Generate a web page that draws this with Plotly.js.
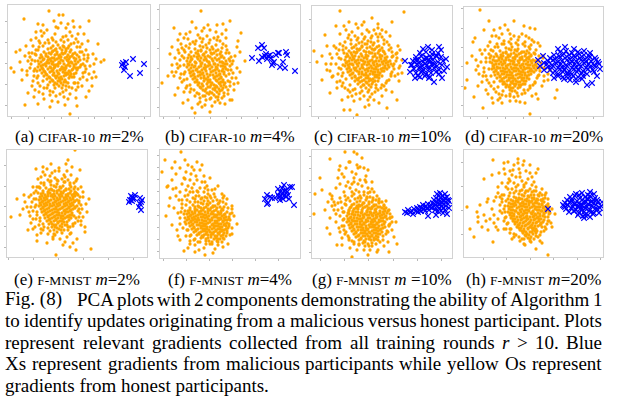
<!DOCTYPE html>
<html><head><meta charset="utf-8">
<script src="https://cdn.plot.ly/plotly-3.0.1.min.js"></script>
<style>html,body{margin:0;padding:0;background:#fff}#fig{width:619px;height:397px}</style>
</head><body><div id="fig"></div>
<script>
// ---- DATA (panel-local PCA units) ----
const honestA = [
[45,70],[50,71],[56,69],[61,70],[40,67],[47,66],[52,68],[58,67],[63,66],
[36,64],[41,63],[45,65],[49,64],[54,63],[58,65],[62,64],[67,63],
[33,61],[38,60],[43,62],[47,61],[51,60],[55,62],[60,61],[64,60],[69,61],
[32,58],[36,57],[40,59],[44,58],[49,57],[53,59],[57,58],[61,57],[66,58],[71,59],
[30,55],[35,56],[39,54],[43,55],[47,56],[51,54],[55,55],[59,56],[63,54],[67,55],[72,56],
[31,52],[35,51],[39,53],[44,52],[48,51],[52,53],[56,52],[60,51],[64,53],[68,52],[73,51],
[30,49],[34,48],[38,50],[42,49],[46,48],[50,50],[54,49],[58,48],[62,50],[66,49],[70,48],
[32,46],[36,45],[40,47],[45,46],[49,45],[53,47],[57,46],[61,45],[65,47],[69,46],
[34,43],[38,42],[42,44],[46,43],[51,42],[55,44],[59,43],[63,42],[68,43],
[36,40],[41,39],[45,41],[49,40],[53,39],[58,41],[62,40],[66,39],
[39,37],[44,36],[48,38],[52,37],[57,36],[61,38],[42,34],[47,33],[52,35],[56,34],[60,33],[46,31],[51,30],[55,31],
[43,68],[54,66],[60,68],[38,62],[49,62],[57,63],[65,62],[34,59],[42,57],[51,58],[59,59],[68,57],[33,54],[41,53],
[45,54],[53,56],[61,53],[70,54],[33,50],[37,52],[46,51],[50,52],[58,50],[66,51],[72,49],[35,47],[43,48],[52,46],
[56,48],[64,46],[68,48],[37,44],[44,45],[50,43],[57,43],[62,44],[66,42],[39,41],[47,40],[51,38],[56,40],[60,42],
[64,39],[42,38],[50,35],[54,37],[58,34],[45,35],[49,32],[53,33],[48,67],[55,70],[44,64],[52,61],[62,59],[40,56],
[55,47],[47,49],[60,55],[46,58],
[30,66],[35,70],[41,73],[48,74],[56,74],[63,72],[69,69],[74,64],[76,57],[77,50],[75,43],[72,37],[67,33],[61,29],
[54,28],[47,28],[40,31],[35,35],[30,40],[27,47],[27,55],[28,61],[32,73],[44,78],[58,80],[70,74],[80,61],[81,42],
[70,29],[56,19],[42,21],[31,24],[25,35],[22,59],[36,83],[64,80],[86,52],[19,41],[48,89],[60,92],
[25,70],[28,78],[34,80],[40,76],[47,82],[55,79],[62,84],[68,77],[74,72],[78,66],[80,58],[82,50],[77,44],[79,36],
[74,30],[68,26],[62,22],[55,24],[48,20],[42,25],[36,28],[30,33],[26,40],[22,48],[24,56],[21,63],[27,62],[31,69],
[72,64],[75,52],[29,45],[35,22],[58,30],[66,33],[39,86],[50,88],[70,82],[85,62],[86,44],[20,55],[18,70],[60,17],
[44,15],[84,30],[27,26],
[24,63],[23,52],[26,45],[29,38],[32,30],[39,28],[45,24],[52,22],[58,26],[64,28],[70,33],[75,39],[78,47],[79,55],
[76,61],[72,69],[66,73],[60,76],[53,76],[45,76],[37,73],[31,75],[28,66],[19,45],[17,60],[33,85],[58,88],[66,89],
[80,75],[88,57],[84,38],[68,18],[50,14],[36,17],[24,30],[14,46],[12,66],[30,92],[46,95],[76,82],
[41,105],[16,97],[51,101],[55,101],[81,95],[53,93],[35,91],[3,48],[6,44],[8,64],[17,11],[42,9],[62,2],[57,11],
[69,10],[26,19],[93,54],[96,56],[88,39],[81,25],[78,19],[20,23],[14,36],[23,76],[72,89],[28,84],[12,54],[30,12],[90,72],[65,95]
];
const maliciousA = [[115,53],[118,54],[117,49],[116,46],[125,57],[122,40],[136,52],[132,43],[114,51]];

const honestB = [
[40,70],[46,71],[52,69],[35,67],[41,66],[47,68],[53,67],[58,66],
[31,64],[36,63],[41,65],[46,64],[51,63],[56,65],[61,64],
[29,61],[34,60],[38,62],[43,61],[48,60],[52,62],[57,61],[62,60],
[28,58],[32,57],[37,59],[41,58],[46,57],[50,59],[55,58],[59,57],[64,58],
[27,55],[31,56],[35,54],[40,55],[44,56],[49,54],[53,55],[57,56],[62,54],[66,55],
[28,52],[32,51],[36,53],[41,52],[45,51],[49,53],[54,52],[58,51],[63,53],[67,52],
[27,49],[31,48],[35,50],[39,49],[44,48],[48,50],[52,49],[57,48],[61,50],[65,49],
[29,46],[33,45],[37,47],[42,46],[46,45],[50,47],[55,46],[59,45],[63,47],[68,46],
[30,43],[34,42],[38,44],[43,43],[47,42],[51,44],[56,43],[60,42],[64,44],
[31,40],[35,39],[40,41],[44,40],[48,39],[53,41],[57,40],[61,39],[66,40],
[33,37],[37,36],[41,38],[46,37],[50,36],[54,38],[59,37],[63,36],
[35,34],[39,33],[44,35],[48,34],[52,33],[57,35],[61,34],[65,33],
[38,31],[43,30],[47,32],[51,31],[56,30],[60,32],[64,31],
[41,28],[46,27],[50,29],[55,28],[59,27],[63,28],[45,25],[50,24],[55,26],[60,25],[49,22],[54,21],[59,22],
[43,69],[50,66],[38,65],[44,62],[54,63],[60,62],[31,59],[39,60],[45,59],[52,57],[61,59],[30,54],[38,57],[42,53],
[47,55],[55,52],[60,54],[65,52],[29,51],[34,49],[41,50],[46,49],[50,51],[56,49],[63,50],[31,44],[36,46],[40,44],
[45,47],[53,45],[57,47],[62,45],[66,47],[33,41],[38,40],[42,42],[50,41],[55,39],[59,41],[64,42],[35,38],[44,38],
[48,36],[56,36],[61,38],[37,34],[42,32],[50,34],[54,31],[59,33],[63,34],[40,29],[48,29],[53,27],[57,29],[61,30],
[43,26],[52,23],[57,24],[62,26],[47,23],[56,19],
[25,64],[29,68],[35,72],[42,74],[49,73],[56,71],[62,68],[66,63],[69,57],[70,50],[69,42],[68,35],[66,29],[64,23],
[58,19],[51,18],[45,20],[39,22],[34,26],[30,31],[27,37],[25,44],[24,51],[24,58],[19,63],[22,68],[28,77],[38,81],
[58,79],[73,55],[74,32],[60,13],[40,14],[24,24],[17,52],[44,88],[66,86],[12,44],[78,75],[20,82],
[22,60],[20,50],[24,42],[22,34],[26,28],[30,24],[35,20],[40,18],[46,16],[55,14],[62,18],[68,22],[70,30],[72,38],
[71,46],[70,55],[69,63],[66,70],[60,75],[54,78],[47,80],[40,78],[33,74],[26,70],[24,78],[18,66],[16,44],[30,84],
[50,86],[62,82],[75,60],[74,26],[45,11],[28,16],[65,12],[20,38],[36,88],
[20,56],[18,48],[21,42],[24,36],[27,30],[31,27],[37,23],[43,20],[50,17],[58,16],[64,20],[68,26],[70,34],[73,43],
[72,52],[71,59],[67,66],[63,72],[57,76],[50,76],[43,77],[36,75],[30,72],[24,66],[21,72],[15,58],[14,40],[18,28],
[26,82],[42,85],[56,84],[66,78],[77,48],[76,38],[52,10],[38,12],[70,16],[10,62],[80,64],[32,94],
[41,105],[14,88],[18,76],[63,92],[57,91],[48,91],[81,83],[77,69],[2,33],[12,51],[15,21],[35,3],[32,8],[50,4],
[42,9],[72,16],[78,33],[80,44],[23,13],[12,69],[8,40],[85,55],[70,95]
];
const maliciousB = [[92,58],[98,68],[102,71],[104,68],[99,55],[102,59],[105,60],[108,60],[110,61],[107,57],[113,53],
[114,54],[112,51],[118,63],[119,63],[116,61],[120,49],[123,54],[125,48],[126,64],[127,61],[135,45],[106,62],[111,58]];

const honestC = [
[50,74],[56,75],[62,73],[44,71],[50,70],[55,72],[61,71],[67,70],
[40,68],[45,67],[50,69],[55,68],[60,67],[65,69],[70,68],
[37,65],[42,64],[47,66],[52,65],[57,64],[62,66],[67,65],[72,64],
[35,62],[40,61],[44,63],[49,62],[54,61],[58,63],[63,62],[68,61],[73,62],
[34,59],[38,58],[43,60],[47,59],[52,58],[56,60],[61,59],[65,58],[70,60],[75,59],
[33,56],[37,55],[42,57],[46,56],[51,55],[55,57],[60,56],[64,55],[69,57],[74,56],[78,55],
[34,53],[38,52],[43,54],[47,53],[52,52],[56,54],[61,53],[65,52],[70,54],[74,53],[79,52],
[33,50],[37,49],[41,51],[46,50],[50,49],[55,51],[59,50],[64,49],[68,51],[73,50],[77,49],
[35,47],[39,46],[44,48],[48,47],[53,46],[57,48],[62,47],[66,46],[71,48],[75,47],
[36,44],[41,43],[45,45],[50,44],[54,43],[59,45],[63,44],[68,43],[72,45],
[38,41],[43,40],[47,42],[52,41],[56,40],[61,42],[65,41],[70,40],
[40,38],[45,37],[49,39],[54,38],[58,37],[63,39],[67,38],
[43,35],[48,34],[52,36],[57,35],[61,34],[66,35],[46,32],[51,31],[55,33],[60,32],[64,31],[49,29],[54,28],[59,29],
[47,73],[53,72],[59,74],[42,69],[48,67],[58,69],[63,67],[68,66],[39,63],[45,64],[54,64],[60,63],[66,63],[71,65],
[36,60],[41,59],[50,60],[54,59],[63,60],[68,59],[73,58],[35,54],[40,56],[44,55],[49,56],[53,54],[58,55],[62,54],
[67,55],[72,55],[76,54],[36,51],[40,52],[45,52],[50,51],[57,52],[62,51],[66,50],[71,52],[76,51],[37,48],[42,48],
[51,48],[55,47],[60,48],[64,47],[69,47],[73,48],[38,45],[43,46],[47,44],[56,45],[61,44],[66,44],[70,45],[40,42],
[50,42],[54,41],[58,42],[63,41],[67,41],[43,39],[47,38],[56,38],[61,37],[65,39],[46,36],[50,35],[54,34],[59,36],
[63,35],[52,31],[57,31],
[32,63],[34,68],[39,72],[45,76],[52,77],[59,78],[66,75],[72,72],[77,66],[80,59],[81,50],[79,42],[75,35],[70,31],
[64,28],[57,26],[50,25],[43,27],[38,31],[34,37],[31,43],[31,51],[29,57],[27,66],[37,81],[55,86],[68,82],[84,62],
[86,42],[74,26],[58,19],[40,20],[25,34],[18,62],[14,52],[32,90],[50,91],[78,80],[90,56],[66,92],
[28,72],[25,62],[24,52],[26,42],[28,35],[33,28],[38,24],[44,22],[52,20],[60,22],[66,26],[72,30],[77,36],[80,44],
[82,52],[81,60],[79,68],[75,74],[70,79],[64,82],[57,84],[50,82],[43,80],[36,78],[31,66],[29,47],[20,58],[22,70],
[34,86],[46,88],[66,88],[85,58],[83,40],[56,16],[42,15],[70,20],[30,30],[74,84],[18,45],[88,50],
[31,70],[27,58],[27,48],[30,40],[31,33],[36,26],[41,26],[48,23],[56,24],[63,24],[69,28],[74,33],[79,40],[82,47],
[84,55],[80,64],[77,71],[72,76],[66,79],[60,80],[53,79],[46,78],[39,76],[33,74],[24,68],[19,52],[21,40],[28,82],
[40,84],[62,86],[70,86],[86,70],[87,48],[80,24],[62,16],[48,17],[36,19],[25,28],[15,70],[44,92],
[28,105],[92,104],[37,94],[52,94],[80,94],[13,81],[2,65],[5,54],[10,36],[18,23],[32,6],[38,6],[45,1],[53,9],
[57,11],[67,13],[85,16],[87,35],[90,43],[85,63],[88,66],[15,46],[20,39],[24,90],[60,98],[10,60],[75,8],[30,16]
];
const maliciousC = [
[108,63],[114,64],[120,62],[126,63],[104,59],[109,60],[114,58],[119,59],[124,60],[129,59],
[101,55],[106,56],[111,54],[116,55],[121,56],[126,54],[131,55],[100,51],[105,52],[110,50],[115,51],[120,52],[125,50],[130,51],
[102,47],[107,48],[112,46],[117,47],[122,48],[127,46],[104,43],[109,44],[114,42],[119,43],[124,44],[108,39],[113,40],[118,39],
[107,53],[112,57],[117,49],[110,45],[113,52],[108,49],[118,55],[115,58],[104,56],[122,52],
[93,55],[116,69],[127,69],[129,66],[135,49],[130,38],[122,34],[117,38],[103,38],[99,51],[134,57],[98,44],[125,60],
[132,45],[120,66],[111,67],[106,40],[127,42]
];

const honestD = [
[42,68],[48,69],[54,67],[36,65],[42,64],[47,66],[53,65],[58,64],[63,65],
[32,62],[37,61],[42,63],[47,62],[52,61],[57,63],[62,62],[67,61],
[30,59],[35,58],[39,60],[44,59],[49,58],[53,60],[58,59],[63,58],[67,60],
[29,56],[33,55],[38,57],[42,56],[47,55],[51,57],[56,56],[60,55],[65,57],[69,56],
[28,53],[32,52],[37,54],[41,53],[46,52],[50,54],[55,53],[59,52],[64,54],[68,53],[72,52],
[29,50],[33,49],[38,51],[42,50],[47,49],[51,51],[56,50],[60,49],[64,51],[69,50],[73,49],
[28,47],[32,46],[36,48],[41,47],[45,46],[50,48],[54,47],[59,46],[63,48],[67,47],[72,46],
[30,44],[34,43],[39,45],[43,44],[48,43],[52,45],[57,44],[61,43],[66,45],[70,44],
[31,41],[36,40],[40,42],[45,41],[49,40],[54,42],[58,41],[63,40],[67,42],
[33,38],[38,37],[42,39],[47,38],[51,37],[56,39],[60,38],[65,37],
[36,35],[40,34],[45,36],[49,35],[54,34],[58,36],[62,35],
[39,32],[43,31],[48,33],[52,32],[57,31],[61,32],[42,29],[47,28],[51,30],[56,29],[46,26],[51,25],
[45,67],[51,66],[39,63],[44,61],[50,63],[55,62],[60,64],[65,63],[33,60],[37,59],[42,58],[46,60],[51,59],[56,58],
[61,60],[65,59],[31,55],[35,56],[40,55],[45,56],[49,55],[54,55],[58,57],[62,56],[67,55],[71,55],[30,51],[35,52],
[39,52],[44,51],[49,52],[53,51],[58,51],[62,52],[66,51],[71,51],[30,48],[34,48],[39,48],[43,48],[48,47],[52,48],
[57,48],[61,47],[65,48],[70,48],[32,45],[37,45],[41,44],[46,44],[50,45],[55,45],[59,44],[64,44],[68,45],[34,42],
[38,42],[43,41],[47,41],[52,41],[56,42],[61,41],[65,41],[36,39],[40,38],[45,38],[49,38],[54,38],[58,38],[63,38],
[38,35],[43,35],[47,34],[52,35],[56,34],[60,35],[41,32],[46,31],[50,32],[55,31],[59,32],[45,29],[49,28],[54,28],[48,25],
[27,60],[29,65],[34,69],[40,72],[47,72],[54,71],[61,70],[66,67],[71,62],[74,55],[75,48],[74,40],[71,33],[66,30],
[60,26],[53,23],[46,22],[39,25],[34,29],[30,34],[27,40],[25,47],[26,54],[21,66],[26,74],[35,78],[55,79],[68,76],
[79,60],[80,35],[68,20],[52,15],[36,18],[19,40],[12,56],[30,86],[46,82],[76,70],[86,46],[14,30],
[22,58],[20,48],[22,40],[25,33],[30,27],[35,22],[42,20],[50,19],[58,22],[64,26],[69,31],[73,38],[76,45],[77,53],
[75,60],[72,66],[67,71],[61,74],[54,76],[47,77],[40,75],[33,72],[27,66],[24,70],[17,54],[15,42],[28,80],[38,82],
[58,82],[80,48],[78,30],[56,14],[34,16],[22,26],[44,86],[65,78],
[25,62],[22,54],[20,44],[23,36],[27,30],[32,24],[38,21],[46,20],[54,20],[61,23],[66,28],[71,34],[75,41],[77,49],
[74,56],[70,63],[65,69],[59,72],[52,73],[45,74],[38,72],[31,69],[26,58],[18,62],[14,50],[18,34],[24,22],[32,80],
[50,80],[62,80],[70,74],[82,52],[80,40],[72,22],[46,15],[28,18],[8,60],[20,86],[36,88],[66,88],
[16,106],[41,91],[9,74],[11,78],[16,66],[3,53],[3,36],[1,28],[10,19],[19,8],[29,13],[38,13],[61,13],[66,2],
[74,17],[91,18],[84,36],[93,26],[71,87],[74,73],[79,58],[12,46],[84,42],[25,95],[50,95],[60,90]
];
const maliciousD = [
[96,64],[102,65],[108,63],[114,64],[120,65],
[90,61],[95,60],[100,62],[105,61],[110,60],[115,62],[120,61],[125,60],
[86,58],[91,57],[96,59],[101,58],[106,57],[111,59],[116,58],[121,57],[126,59],[131,58],
[84,55],[89,56],[94,54],[98,55],[103,56],[108,54],[112,55],[117,56],[122,54],[127,55],[132,56],
[83,52],[88,51],[92,53],[97,52],[102,51],[106,53],[111,52],[115,51],[120,53],[125,52],[130,51],[135,52],
[84,49],[89,50],[94,48],[98,49],[103,50],[108,48],[112,49],[117,50],[122,48],[126,49],[131,50],
[86,46],[91,45],[96,47],[100,46],[105,45],[110,47],[114,46],[119,45],[124,47],[129,46],
[89,43],[94,42],[99,44],[104,43],[108,42],[113,44],[118,43],[123,42],
[94,40],[99,39],[104,41],[109,40],[114,39],[119,40],[100,37],[106,36],[112,37],
[101,69],[74,56],[76,50],[134,54],[133,40],[128,33],[123,31],[118,37],[104,38],[80,53],[80,46],[136,47],
[110,67],[94,67],[126,63],[90,38],[112,34],[130,44],[79,60]
];

const honestE = [
[44,72],[50,73],[56,71],[39,69],[44,68],[49,70],[54,69],[59,68],[64,70],
[36,66],[41,65],[45,67],[50,66],[54,65],[59,67],[64,66],[68,65],
[34,63],[38,62],[43,64],[47,63],[52,62],[56,64],[61,63],[65,62],[69,64],
[33,60],[37,59],[41,61],[46,60],[50,59],[55,61],[59,60],[63,59],[68,61],
[32,57],[36,56],[40,58],[44,57],[49,56],[53,58],[58,57],[62,56],[66,58],[70,57],
[33,54],[37,53],[41,55],[46,54],[50,53],[54,55],[59,54],[63,53],[67,55],
[32,51],[36,50],[40,52],[45,51],[49,50],[53,52],[58,51],[62,50],[66,52],[70,51],
[34,48],[38,47],[42,49],[47,48],[51,47],[55,49],[60,48],[64,47],[68,49],
[35,45],[39,44],[43,46],[48,45],[52,44],[57,46],[61,45],[65,44],
[37,42],[41,41],[45,43],[50,42],[54,41],[58,43],[63,42],[67,41],
[38,39],[43,38],[47,40],[51,39],[56,38],[60,40],[64,39],
[40,36],[44,35],[49,37],[53,36],[57,35],[62,37],[42,33],[47,32],[51,34],[55,33],[60,32],[45,30],[50,29],[55,30],
[47,71],[53,70],[42,67],[47,66],[52,67],[57,66],[62,68],[36,64],[41,63],[45,62],[50,64],[54,63],[59,62],[63,64],
[67,63],[35,61],[39,60],[44,61],[48,61],[53,60],[57,59],[61,61],[66,60],[34,58],[38,57],[42,56],[47,58],[51,57],
[56,56],[60,58],[64,57],[68,56],[35,55],[39,54],[43,53],[48,55],[52,54],[57,53],[61,55],[65,54],[34,52],[38,51],
[43,51],[47,52],[51,51],[56,50],[60,52],[64,51],[68,50],[36,49],[40,48],[45,47],[49,48],[53,48],[58,47],[62,49],
[66,48],[37,46],[41,45],[46,44],[50,45],[55,44],[59,45],[63,46],[39,43],[43,42],[48,41],[52,42],[56,41],[61,41],
[65,42],[41,40],[45,39],[49,38],[54,39],[58,39],[62,40],[42,37],[47,36],[51,35],[55,36],[60,35],[45,33],[49,32],
[53,31],[58,32],[48,30],[52,28],
[31,64],[33,69],[37,74],[43,75],[50,77],[57,75],[63,72],[67,68],[71,62],[72,54],[71,46],[69,39],[66,33],[61,30],
[54,27],[47,27],[41,29],[36,33],[33,39],[30,45],[29,52],[29,58],[26,70],[31,78],[43,81],[58,80],[69,76],[75,48],
[74,36],[63,23],[47,23],[34,28],[24,50],[23,41],[17,62],[52,86],[36,90],[74,70],[82,58],[30,16],
[27,64],[25,55],[26,46],[29,38],[32,32],[36,27],[41,23],[48,22],[55,24],[61,27],[66,31],[71,36],[73,44],[74,52],
[73,60],[71,68],[67,74],[61,77],[55,78],[48,79],[41,77],[34,74],[30,70],[22,60],[20,50],[57,82],[64,82],[38,82],
[45,84],[76,40],[53,18],[60,20],[28,30],[76,65],
[29,66],[27,58],[28,50],[30,42],[33,36],[37,30],[43,26],[50,25],[57,27],[63,30],[68,34],[72,40],[72,48],[72,56],
[70,63],[68,70],[63,74],[58,75],[51,76],[44,76],[37,72],[32,70],[24,62],[22,45],[26,38],[34,24],[46,20],[64,24],
[76,60],[60,86],[48,86],[40,88],[34,80],[70,78],[78,30],[30,22],[16,48],[10,58],[58,15],[66,14],
[68,107],[61,97],[59,93],[44,93],[29,88],[73,87],[36,85],[4,40],[13,42],[21,27],[26,28],[46,18],[56,12],[63,10],
[49,2],[69,7],[84,8],[78,25],[79,53],[74,32],[52,89],[65,90],[18,55],[24,34],[40,14],[80,45],[70,18]
];
const maliciousE = [[126,58],[124,61],[128,62],[125,56],[123,57],[133,59],[135,57],[133,53],[132,50],[134,47],
[122,55],[127,59],[125,60],[134,55]];

const honestF = [
[38,56],[44,57],[50,55],[33,53],[38,52],[43,54],[48,53],[53,52],[58,54],
[30,50],[35,49],[39,51],[44,50],[48,49],[53,51],[57,50],[62,49],
[28,47],[32,46],[37,48],[41,47],[45,46],[50,48],[54,47],[58,46],[63,48],
[27,44],[31,43],[35,45],[40,44],[44,43],[48,45],[53,44],[57,43],[61,45],[65,44],
[28,41],[32,40],[36,42],[41,41],[45,40],[49,42],[54,41],[58,40],[62,42],[66,41],
[27,38],[31,37],[35,39],[39,38],[44,37],[48,39],[52,38],[57,37],[61,39],[65,38],
[29,35],[33,34],[37,36],[42,35],[46,34],[50,36],[55,35],[59,34],[63,36],[67,35],
[30,32],[34,31],[39,33],[43,32],[47,31],[52,33],[56,32],[60,31],[64,33],
[32,29],[36,28],[41,30],[45,29],[49,28],[54,30],[58,29],[62,28],[66,29],
[34,26],[39,25],[43,27],[47,26],[52,25],[56,27],[60,26],[64,25],
[37,23],[42,22],[46,24],[51,23],[55,22],[59,24],[63,23],[41,20],[46,19],[51,21],[56,20],[60,19],[46,17],[52,16],[57,17],
[41,55],[47,54],[35,51],[41,50],[46,51],[51,50],[55,52],[60,51],[30,48],[35,47],[39,46],[43,48],[48,47],[52,46],
[56,48],[61,47],[29,45],[33,44],[38,43],[42,44],[46,43],[51,44],[55,43],[59,44],[64,43],[30,42],[34,41],[38,40],
[43,41],[47,41],[52,40],[56,41],[60,40],[64,40],[29,39],[33,38],[37,38],[42,38],[46,37],[50,38],[55,37],[59,38],
[63,37],[67,38],[31,36],[35,36],[40,35],[44,34],[48,35],[53,34],[57,35],[61,34],[65,34],[32,33],[37,33],[41,32],
[45,32],[50,31],[54,32],[58,32],[62,31],[66,32],[34,30],[38,29],[43,29],[47,29],[52,29],[56,28],[60,29],[64,28],
[36,27],[41,26],[45,27],[50,26],[54,26],[58,25],[62,27],[39,24],[44,23],[48,23],[53,24],[57,22],[61,22],[43,21],
[48,20],[54,19],[58,19],[49,17],
[26,53],[30,56],[35,59],[41,59],[47,60],[53,57],[59,55],[64,51],[67,46],[69,39],[69,32],[67,25],[63,20],[58,16],
[52,14],[46,14],[40,16],[35,19],[31,23],[28,28],[26,34],[25,40],[25,47],[22,58],[28,63],[37,67],[45,70],[54,64],
[63,60],[72,45],[72,24],[44,10],[30,14],[20,34],[21,46],[16,70],[26,86],[36,82],[12,90],[8,72],
[25,62],[30,66],[36,62],[42,60],[48,64],[55,61],[60,57],[66,54],[70,44],[68,30],[70,38],[22,50],[20,40],[23,30],
[26,22],[30,17],[35,13],[62,16],[66,22],[19,58],[28,72],[34,74],[40,70],[47,72],[52,68],[24,80],[31,84],[37,78],
[44,82],[16,62],[14,50],[12,78],[20,90],[28,93],[40,88],[50,80],[58,72],[62,64],[72,52],[17,28],[39,8],[55,9],
[68,14],[60,44],[35,56],[48,57],
[27,58],[33,60],[39,62],[45,61],[51,60],[57,58],[63,56],[68,50],[69,41],[69,34],[67,27],[64,19],[24,44],[25,36],
[27,28],[30,22],[34,18],[38,16],[50,14],[58,13],[22,54],[18,45],[20,66],[26,68],[32,70],[38,66],[44,66],[50,62],
[42,76],[48,68],[30,78],[22,74],[16,84],[34,88],[18,22],[72,30],[74,42],[28,10],[64,62],[10,60],
[5,98],[25,98],[21,106],[37,96],[42,93],[32,91],[2,86],[7,71],[13,69],[25,79],[45,76],[33,66],[55,69],[72,49],
[67,59],[77,34],[12,33],[20,18],[24,7],[35,6],[45,3],[53,5],[63,11],[70,23],[9,52],[15,96],[6,42]
];
const maliciousF = [[107,63],[105,59],[110,61],[108,55],[107,54],[115,60],[118,69],[120,66],[122,70],[124,73],[127,66],
[125,63],[128,63],[123,59],[120,58],[130,71],[132,71],[134,53],[118,63],[122,64],[129,59],[124,67],[126,61],[121,62],
[123,65],[119,61],[126,68],[112,60]];

const honestG = [
[48,57],[54,58],[60,56],[42,54],[47,53],[52,55],[57,54],[62,53],[67,55],
[39,51],[44,50],[48,52],[53,51],[57,50],[62,52],[66,51],[70,50],
[37,48],[41,47],[46,49],[50,48],[55,47],[59,49],[63,48],[68,47],[72,49],
[36,45],[40,44],[44,46],[49,45],[53,44],[58,46],[62,45],[66,44],[71,46],[75,45],
[35,42],[39,41],[43,43],[48,42],[52,41],[57,43],[61,42],[65,41],[70,43],[74,42],
[36,39],[40,38],[45,40],[49,39],[54,38],[58,40],[62,39],[67,38],[71,40],[75,39],
[35,36],[39,35],[43,37],[48,36],[52,35],[56,37],[61,36],[65,35],[69,37],[73,36],
[37,33],[41,32],[45,34],[50,33],[54,32],[59,34],[63,33],[67,32],[72,34],
[38,30],[42,29],[47,31],[51,30],[56,29],[60,31],[64,30],[69,29],[73,31],
[40,27],[44,26],[49,28],[53,27],[57,26],[62,28],[66,27],[70,26],
[42,24],[47,23],[51,25],[55,24],[60,23],[64,25],[68,24],[44,21],[49,20],[53,22],[58,21],[62,20],[66,21],
[47,18],[52,17],[57,19],[62,18],[51,15],[56,14],
[45,56],[51,55],[57,56],[40,53],[45,52],[50,53],[55,52],[60,51],[64,53],[38,50],[42,49],[46,51],[51,50],[56,49],
[60,50],[64,49],[68,51],[37,47],[41,46],[46,46],[50,46],[55,46],[59,45],[64,46],[68,45],[73,47],[37,44],[42,43],
[46,43],[51,43],[55,43],[60,43],[64,43],[68,42],[72,44],[38,40],[42,40],[47,39],[51,40],[56,40],[60,38],[64,40],
[69,40],[73,41],[37,37],[41,37],[45,37],[50,37],[54,36],[59,36],[63,37],[67,36],[71,37],[39,34],[43,34],[48,34],
[52,34],[57,33],[61,33],[65,34],[70,33],[40,31],[45,31],[49,31],[54,30],[58,31],[62,31],[66,30],[71,30],[42,28],
[46,28],[51,28],[55,28],[60,27],[64,28],[68,28],[44,25],[49,25],[53,25],[58,25],[62,25],[66,24],[46,22],[51,22],
[56,22],[60,22],[64,22],[49,19],[54,19],[59,18],[64,19],[53,16],
[34,53],[38,57],[43,59],[49,60],[55,60],[61,58],[67,56],[72,52],[76,47],[78,40],[77,33],[75,27],[71,22],[66,18],
[60,15],[53,12],[47,13],[42,16],[37,20],[34,26],[32,32],[32,39],[32,46],[29,56],[33,62],[40,66],[47,66],[56,65],
[65,62],[74,57],[80,36],[76,16],[58,8],[38,10],[28,26],[24,44],[20,52],[42,76],[28,74],[54,76],
[40,62],[46,60],[52,63],[58,61],[64,58],[70,56],[34,58],[30,50],[28,42],[30,32],[33,24],[37,18],[42,14],[60,12],
[68,16],[74,24],[77,32],[78,40],[77,48],[26,55],[32,66],[38,70],[44,68],[50,72],[56,70],[62,66],[36,76],[42,80],
[48,78],[54,82],[30,84],[40,86],[46,90],[24,70],[20,62],[56,88],[60,76],[28,92],[38,96],[50,100],[22,48],[24,36],
[80,28],[45,8],[66,8],
[36,60],[42,64],[48,62],[55,61],[61,60],[67,57],[72,53],[33,54],[31,46],[31,38],[32,28],[36,22],[40,17],[47,14],
[57,12],[64,14],[71,18],[76,26],[78,34],[78,44],[74,50],[28,60],[26,48],[27,30],[22,56],[34,72],[46,74],[52,66],
[58,66],[40,74],[44,84],[52,90],[34,90],[26,80],[16,56],[18,40],[84,36],[72,12],[52,8],[30,20],
[33,106],[42,106],[45,104],[18,99],[37,96],[45,93],[27,88],[48,91],[3,64],[10,68],[18,64],[2,44],[13,48],[18,24],
[25,13],[30,13],[40,1],[56,3],[65,6],[77,6],[82,21],[80,41],[32,81],[53,78],[60,69],[67,59],[20,59],[23,53],[8,80],
[15,30],[85,14]
];
const maliciousG = [[93,46],[95,45],[96,48],[98,46],[100,47],[101,44],[102,49],[104,47],[105,50],[106,46],[107,48],
[108,51],[109,47],[110,50],[111,53],[112,49],[113,47],[114,52],[115,50],[116,42],[116,54],[117,48],[118,51],[119,53],
[120,50],[121,55],[122,52],[123,48],[124,43],[124,56],
[122,58],[124,60],[125,52],[126,55],[126,58],[127,62],[127,50],[128,54],[128,57],[129,60],[129,47],[130,52],[130,55],
[130,62],[131,58],[131,50],[132,54],[132,57],[133,60],[133,48],[134,52],[134,56],[135,61],[135,44],[136,54],[136,58],
[137,50],[125,64],[128,65],[131,45],[126,47],[133,64],[137,57]];

const honestH = [
[55,63],[61,64],[67,62],[50,60],[55,59],[60,61],[65,60],[70,59],[75,61],
[47,57],[52,56],[56,58],[61,57],[65,56],[70,58],[74,57],[78,56],
[45,54],[49,53],[54,55],[58,54],[62,53],[67,55],[71,54],[75,53],[80,55],
[44,51],[48,50],[52,52],[57,51],[61,50],[65,52],[70,51],[74,50],[78,52],[82,51],
[45,48],[49,47],[53,49],[58,48],[62,47],[66,49],[71,48],[75,47],[79,49],
[44,45],[48,44],[52,46],[57,45],[61,44],[65,46],[69,45],[74,44],[78,46],[82,45],
[46,42],[50,41],[55,43],[59,42],[63,41],[68,43],[72,42],[76,41],[80,43],
[47,39],[51,38],[56,40],[60,39],[64,38],[69,40],[73,39],[77,38],[81,40],
[49,36],[53,35],[57,37],[62,36],[66,35],[70,37],[75,36],[79,35],
[51,33],[55,32],[59,34],[64,33],[68,32],[72,34],[77,33],
[53,30],[57,29],[61,31],[66,30],[70,29],[74,31],[78,30],[56,27],[60,26],[64,28],[69,27],[73,26],
[59,24],[63,23],[68,25],[72,24],[62,21],[67,20],
[58,62],[64,61],[70,62],[52,59],[58,58],[63,58],[68,59],[73,58],[49,56],[54,57],[59,55],[63,56],[68,56],[72,56],
[77,57],[47,53],[51,54],[56,53],[60,53],[65,54],[69,53],[73,54],[78,53],[46,50],[50,51],[55,50],[59,51],[63,50],
[68,50],[72,50],[76,50],[80,50],[47,47],[51,46],[56,47],[60,46],[64,47],[69,46],[73,47],[77,46],[81,47],[46,44],
[50,43],[54,44],[59,43],[63,44],[67,44],[71,43],[76,43],[80,44],[48,41],[53,40],[57,41],[62,40],[66,40],[70,41],
[74,40],[79,41],[49,38],[54,37],[58,38],[63,38],[67,37],[71,38],[75,38],[80,37],[51,35],[56,34],[60,35],[65,34],
[69,34],[73,35],[77,34],[54,32],[58,31],[62,32],[67,31],[71,31],[76,32],[55,29],[60,28],[64,29],[68,29],[72,28],
[58,26],[62,25],[66,25],[71,26],[61,22],[65,22],[69,23],[64,19],
[42,56],[45,61],[50,64],[56,66],[62,66],[68,65],[74,62],[79,58],[83,51],[85,43],[84,36],[81,30],[77,25],[72,21],
[66,18],[60,18],[55,20],[50,23],[46,28],[43,33],[41,39],[41,45],[41,51],[38,62],[44,68],[52,70],[60,72],[72,70],
[82,64],[88,48],[87,34],[76,16],[60,13],[48,18],[40,28],[36,46],[32,60],[46,76],[56,84],[66,84],
[40,62],[42,70],[48,68],[54,72],[60,70],[66,68],[72,66],[78,62],[36,52],[38,44],[40,36],[42,28],[46,24],[50,20],
[56,16],[70,18],[76,22],[82,28],[85,36],[86,44],[84,58],[45,78],[52,80],[58,76],[64,78],[70,75],[38,74],[34,64],
[30,56],[46,86],[55,88],[62,86],[50,92],[35,84],[66,92],[30,42],[26,38],[20,42],[32,30],[18,30],[72,84],[60,96],
[40,94],[85,50],
[44,58],[46,64],[52,66],[58,67],[64,66],[70,66],[76,64],[81,59],[84,53],[85,46],[84,40],[83,33],[80,26],[74,20],
[66,16],[58,18],[52,22],[47,28],[44,34],[42,40],[40,48],[38,55],[36,60],[44,74],[56,80],[62,74],[68,72],[50,74],
[48,82],[34,70],[28,48],[24,58],[34,38],[30,34],[14,40],[22,36],[88,30],[78,14],[54,94],[40,88],
[29,97],[44,95],[54,98],[59,92],[49,87],[74,88],[41,83],[68,80],[20,78],[28,82],[78,68],[81,62],[3,50],[13,45],
[6,28],[14,35],[24,27],[34,27],[29,15],[61,12],[67,15],[84,2],[91,43],[83,48],[23,55],[38,58],[10,20],[16,52],[72,8]
];
const maliciousH = [
[112,63],[118,64],[124,62],[130,63],[106,60],[111,61],[116,59],[121,60],[126,61],[131,59],
[103,57],[108,58],[113,56],[118,57],[123,58],[128,56],[133,57],
[101,54],[106,55],[110,53],[115,54],[120,55],[124,53],[129,54],[134,55],
[100,51],[104,52],[109,50],[114,51],[118,52],[123,50],[128,51],[132,52],[137,51],
[102,48],[107,49],[112,47],[116,48],[121,49],[126,47],[131,48],[136,49],
[105,45],[110,46],[115,44],[120,45],[125,46],[130,44],[114,42],[119,41],[124,42],[129,43],
[84,48],[101,50],[121,42],[126,65],[99,52],[120,39],[126,40],[135,44],[138,55],[110,46],[115,62],[108,56],[116,52],
[122,55],[128,51],[118,48],[111,53],[124,58],[130,57],[133,48]
];

const panelLabels = ['(a)','(b)','(c)','(d)','(e)','(f)','(g)','(h)'];
const datasetNames = ['CIFAR-10','CIFAR-10','CIFAR-10','CIFAR-10','F-MNIST','F-MNIST','F-MNIST','F-MNIST'];
const maliciousShare = ['=2%','=4%','=10%','=20%','=2%','=4%',' =10%','=20%'];
const captionLines = [
 ["Fig. (8)","PCA","plots","with","2","components","demonstrating","the","ability","of","Algorithm","1"],
 ["to","identify","updates","originating","from","a","malicious","versus","honest","participant.","Plots"],
 ["represent","relevant","gradients","collected","from","all","training","rounds","<i>r</i>",">","10.","Blue"],
 ["Xs","represent","gradients","from","malicious","participants","while","yellow","Os","represent"],
 ["gradients from honest participants."]
];

// ---- LAYOUT (positions in px of the 619x397 figure) ----
const FW=619, FH=397, SERIF='Liberation Serif, serif';
const honest=[honestA,honestB,honestC,honestD,honestE,honestF,honestG,honestH];
const malicious=[maliciousA,maliciousB,maliciousC,maliciousD,maliciousE,maliciousF,maliciousG,maliciousH];
// frame: left, right, top, bottom ; ticks: x0, dx, y0, dy
const frames=[
 [8,150,5,116, 3.3,16.7,11,20.8],
 [160,300,5,116, 3.3,15.7,8.7,19.5],
 [312,452,6,116, 6,17.5,10,21.7],
 [464,603,7,116, 6,17.7,10.7,19.3],
 [7,147,150,257, 26,25,10,20.3],
 [160,300,150,258, 3.3,23,6.7,12],
 [312,452,150,258, 8.3,24.3,5.2,12.1],
 [464,603,150,257, 19.3,23.5,23,24]
];
const capY=[136,136,136,136,279,279,279,279];

const data=[], layout={width:FW,height:FH,margin:{l:0,r:0,t:0,b:0},paper_bgcolor:'#fff',plot_bgcolor:'#fff',
 showlegend:false,annotations:[],font:{family:SERIF,color:'#000'}};
frames.forEach((f,i)=>{
 const n=i===0?'':String(i+1);
 const [L,R,T,B,x0,dx,y0,dy]=f;
 const base={showgrid:false,zeroline:false,showline:true,mirror:true,linecolor:'#d2d2d2',linewidth:1,
   ticks:'outside',ticklen:2,tickwidth:1,tickcolor:'#b8b8b8',showticklabels:false,tickmode:'linear',fixedrange:true};
 layout['xaxis'+n]=Object.assign({},base,{domain:[L/FW,R/FW],range:[0,R-L],tick0:x0,dtick:dx,anchor:'y'+n});
 layout['yaxis'+n]=Object.assign({},base,{domain:[1-B/FH,1-T/FH],range:[0,B-T],tick0:y0,dtick:dy,anchor:'x'+n});
 data.push({type:'scatter',mode:'markers',xaxis:'x'+n,yaxis:'y'+n,x:honest[i].map(p=>p[0]),y:honest[i].map(p=>p[1]),
   marker:{color:'#ffa500',size:3.3,symbol:'circle',line:{width:0}},hoverinfo:'skip'});
 data.push({type:'scatter',mode:'markers',xaxis:'x'+n,yaxis:'y'+n,x:malicious[i].map(p=>p[0]),y:malicious[i].map(p=>p[1]),
   marker:{color:'#0000ff',size:5.5,symbol:'x-thin',line:{width:1.1,color:'#0000ff'}},hoverinfo:'skip'});
 layout.annotations.push({xref:'paper',yref:'paper',x:((L+R)/2)/FW,y:1-capY[i]/FH,xanchor:'center',yanchor:'middle',
   showarrow:false,
   text:panelLabels[i]+' <span style="font-size:13.5px">'+datasetNames[i]+'</span> <i>m</i>'+maliciousShare[i],
   font:{size:17,family:SERIF,color:'#000'}});
});

// figure caption: words placed first, then justified from their rendered widths
const CAPSIZE=19, capX0=4, capX1=601, lineY=[299,320.5,342,363.5,385];
const capIdx=[];
captionLines.forEach((words,li)=>{
 const yv=1-lineY[li]/FH; capIdx.push([]);
 let x=capX0;
 words.forEach((w)=>{
   capIdx[li].push(layout.annotations.length);
   layout.annotations.push({xref:'paper',yref:'paper',x:x/FW,y:yv,xanchor:'left',yanchor:'middle',showarrow:false,borderpad:0,
     text:w,font:{size:CAPSIZE,family:SERIF,color:'#000'}});
   x+=w.length*8;
 });
});

Plotly.newPlot('fig',data,layout,{staticPlot:true}).then(gd=>{
 const wid={};
 gd.querySelectorAll('g.annotation').forEach(g=>{
   const t=g.querySelector('text.annotation-text');
   if(t) wid[+g.getAttribute('data-index')]=t.getBBox().width;
 });
 const upd={};
 capIdx.forEach((idxs,li)=>{
   if(li===capIdx.length-1) return;
   const extra=li===0?12:0;
   const tot=idxs.reduce((a,i)=>a+(wid[i]||0),0);
   const gap=(capX1-capX0-tot-extra)/(idxs.length-1);
   let x=capX0;
   idxs.forEach((i,k)=>{ upd['annotations['+i+'].x']=x/FW; x+=(wid[i]||0)+gap+(k===0?extra:0); });
 });
 return Plotly.relayout(gd,upd);
});
</script></body></html>
